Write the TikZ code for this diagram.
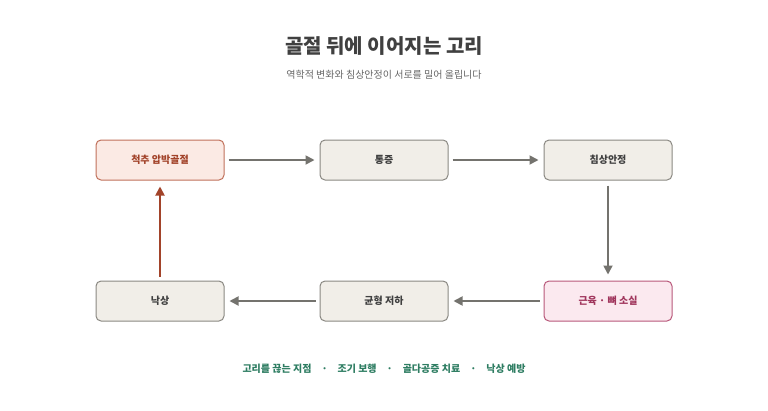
\documentclass[tikz,border=0pt]{standalone}
\usepackage{fontspec}
\setmainfont{Noto Sans CJK KR}
\usetikzlibrary{arrows.meta}
\definecolor{boxfill}{HTML}{F1EEE8}
\definecolor{boxdraw}{HTML}{8A8882}
\definecolor{redfill}{HTML}{FBEAE4}
\definecolor{reddraw}{HTML}{C0705A}
\definecolor{redtxt}{HTML}{A2432A}
\definecolor{pinkfill}{HTML}{FBE9EF}
\definecolor{pinkdraw}{HTML}{B8587A}
\definecolor{pinktxt}{HTML}{A0355C}
\definecolor{arr}{HTML}{74736E}
\definecolor{grn}{HTML}{2E7D62}
\begin{document}
\begin{tikzpicture}[x=1pt,y=-1pt,
 box/.style={draw=boxdraw,fill=boxfill,rounded corners=5pt,minimum width=128pt,minimum height=40pt,line width=1pt,font=\fontsize{10}{12}\selectfont\bfseries,text=black!75},
 ar/.style={draw=arr,line width=1.8pt,-{Triangle[length=9pt,width=9pt]}}]
\useasboundingbox (0,0) rectangle (768,410);
\node[font=\fontsize{20}{24}\selectfont\bfseries,text=black!75] (t) at (384,46) {골절 뒤에 이어지는 고리};
\node[font=\fontsize{10}{12}\selectfont,text=black!60] (s) at (384,75) {역학적 변화와 침상안정이 서로를 밀어 올립니다};
\node[box,fill=redfill,draw=reddraw,text=redtxt] (a) at (160,160) {척추 압박골절};
\node[box] (b) at (384,160) {통증};
\node[box] (c) at (608,160) {침상안정};
\node[box,fill=pinkfill,draw=pinkdraw,text=pinktxt] (d) at (608,301) {근육 · 뼈 소실};
\node[box] (e) at (384,301) {균형 저하};
\node[box] (f) at (160,301) {낙상};
\draw[ar] ([xshift=4pt]a.east) -- ([xshift=-5pt]b.west);
\draw[ar] ([xshift=4pt]b.east) -- ([xshift=-5pt]c.west);
\draw[ar] ([yshift=-5pt]c.south) -- ([yshift=6pt]d.north);
\draw[ar] ([xshift=-4pt]d.west) -- ([xshift=5pt]e.east);
\draw[ar] ([xshift=-4pt]e.west) -- ([xshift=5pt]f.east);
\draw[ar,draw=redtxt] ([yshift=4pt]f.north) -- ([yshift=-6pt]a.south);
\node[font=\fontsize{10}{12}\selectfont\bfseries,text=grn] (k) at (384,369) {고리를 끊는 지점\quad·\quad 조기 보행\quad·\quad 골다공증 치료\quad·\quad 낙상 예방};
\end{tikzpicture}
\end{document}
